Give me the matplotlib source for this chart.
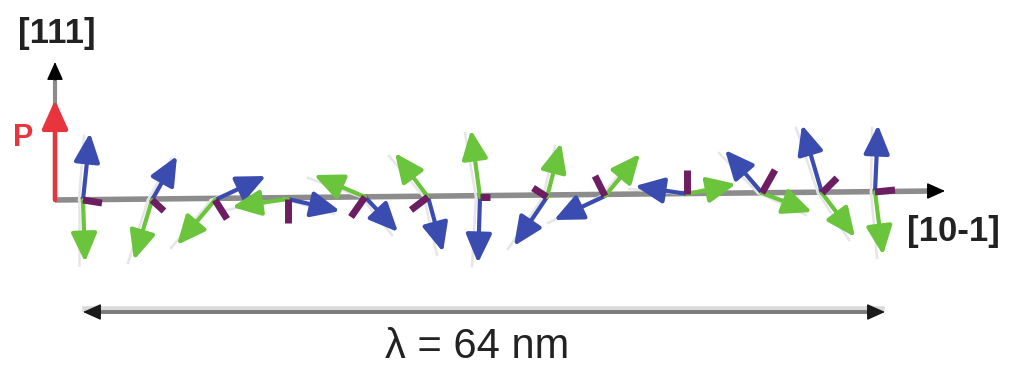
import matplotlib.pyplot as plt

# positions des sites le long de [10-1] (pixels de l'image)
site_x = [83, 152, 215, 288, 365, 428, 480, 547, 605, 687, 762, 822, 875]
site_y = [200, 200, 200, 199, 197, 197, 197, 197, 196, 194, 193, 193, 192]

# extrémités des vecteurs bleus, verts et violets
blue_tip = [(90, 133), (177, 156), (266, 176), (340, 211), (398, 232), (443, 252), (478, 263),
            (514, 246), (554, 220), (635, 186), (725, 150), (802, 125), (878, 125)]
green_tip = [(85, 262), (134, 260), (177, 245), (232, 207), (314, 175), (395, 153), (471, 130),
             (561, 143), (640, 154), (736, 184), (812, 212), (855, 237), (883, 255)]
purple_tip = [(102, 203), (164, 211), (227, 219), (288, 223), (351, 217), (411, 210), (490, 197),
              (533, 188), (595, 176), (687, 170), (775, 170), (837, 178), (895, 190)]

axis_label_x = "[10-1]"
axis_label_y = "[111]"
wavelength_label = "λ = 64 nm"

plt.rcParams["font.family"] = ["Liberation Sans", "DejaVu Sans"]

fig = plt.figure(figsize=(10.09, 3.65), dpi=100)
ax = fig.add_axes([0, 0, 1, 1])
ax.set_xlim(0, 1009)
ax.set_ylim(365, 0)
ax.axis("off")


def arrow(start, end, color, lw, scale=20, hl=0.8, hw=0.36, z=3):
    ax.annotate("", xy=end, xytext=start,
                arrowprops=dict(arrowstyle=f"-|>,head_length={hl},head_width={hw}",
                                color=color, lw=lw, mutation_scale=scale,
                                shrinkA=0, shrinkB=0),
                zorder=z)


# axes du repère
ax.plot([55, 935], [200, 191], color="#8c8c8c", lw=4, zorder=1, solid_capstyle="butt")
arrow((930, 191), (945, 191), "black", 1.0, scale=14)
ax.plot([55, 55], [200, 75], color="#8c8c8c", lw=3, zorder=1, solid_capstyle="butt")
arrow((55, 80), (55, 62), "black", 1.0, scale=14)

# polarisation P
arrow((55, 200), (55, 100), "#e8343c", 3.2, scale=22, z=4)
ax.text(23, 138, "P", color="#e8343c", fontsize=22, ha="center", va="center",
        fontweight="bold")

# vecteurs de spin
for i in range(len(site_x)):
    base = (site_x[i], site_y[i])
    # ombres grises
    ax.plot([base[0] - 4, blue_tip[i][0] - 6], [base[1], blue_tip[i][1] + 3],
            color="#e6e6e6", lw=1.8, zorder=2)
    ax.plot([base[0] - 4, green_tip[i][0] - 6], [base[1], green_tip[i][1] + 3],
            color="#e6e6e6", lw=1.8, zorder=2)
    arrow(base, blue_tip[i], "#3b4cb0", 3.0, scale=22)
    arrow(base, green_tip[i], "#6ac43c", 3.0, scale=22)
    ax.plot([base[0], purple_tip[i][0]], [base[1], purple_tip[i][1]],
            color="#6d1e62", lw=5, solid_capstyle="butt", zorder=5)

ax.text(57, 33, axis_label_y, fontsize=25, ha="center", va="center", fontweight="bold",
        color="#222222")
ax.text(953, 231, axis_label_x, fontsize=25, ha="center", va="center", fontweight="bold",
        color="#222222")

# longueur d'onde
ax.plot([85, 882], [309, 309], color="#dadada", lw=4, zorder=1)
ax.plot([92, 876], [312, 312], color="#7a7a7a", lw=2.8, zorder=2)
arrow((100, 312), (83, 312), "#1a1a1a", 1.0, scale=14)
arrow((868, 312), (885, 312), "#1a1a1a", 1.0, scale=14)
ax.text(477, 347, wavelength_label, fontsize=30, ha="center", va="center", color="#222222")

fig.savefig("out.png", dpi=100)
